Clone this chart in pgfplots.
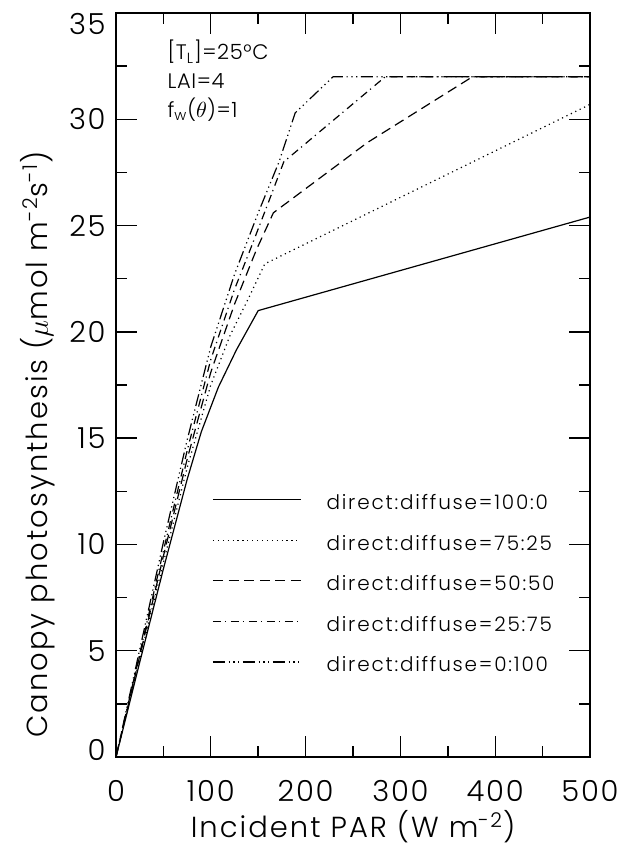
\documentclass[border=0pt]{standalone}
\usepackage{pgfplots}
\pgfplotsset{compat=1.18}
\usepackage{fontspec}
\setmainfont{Poppins Light}

\pgfplotstableread{
x y
0 0
25 4.45
50 8.85
75 13.05
90 15.3
108 17.4
127 19.15
150 21.0
500 25.4
}\dOne
\pgfplotstableread{
x y
0 0
25 4.6
50 9.15
75 13.6
100 17.5
120 19.8
140 21.6
157 23.2
500 30.7
}\dTwo
\pgfplotstableread{
x y
0 0
25 4.75
50 9.45
75 14.0
100 18.1
125 21.3
148 23.85
166 25.6
265 28.9
376 32
500 32
}\dThree
\pgfplotstableread{
x y
0 0
25 4.85
50 9.7
75 14.4
100 18.7
125 22.0
141 23.8
160 26.0
177 28.0
284 32
500 32
}\dFour
\pgfplotstableread{
x y
0 0
25 5.05
50 10.1
75 14.9
100 19.3
125 22.7
150 25.6
172 28.0
189 30.3
229 32
500 32
}\dFive

\tikzset{
  sdot/.style={line width=0.6pt, dash pattern=on 0.6pt off 1.85pt},
  sdash/.style={line width=0.6pt, dash pattern=on 5pt off 2.8pt},
  sdashdot/.style={line width=0.6pt, dash pattern=on 4pt off 2pt on 0.6pt off 2.4pt},
  sdashdots/.style={line width=0.6pt, dash pattern=on 6pt off 1.8pt on 0.6pt off 1.8pt on 0.6pt off 1.8pt on 0.6pt off 1.8pt},
}

\begin{document}
\begin{tikzpicture}
\useasboundingbox (-58pt,-45pt) rectangle (251pt,378.5pt);
\begin{axis}[
  scale only axis,
  width=237pt, height=372pt,
  xmin=0, xmax=500, ymin=0, ymax=35,
  xtick={0,100,...,500}, ytick={0,5,...,35},
  yticklabels={\raisebox{3.7pt}[\height][\depth]{0},5,10,15,20,25,30,\raisebox{-5.5pt}[\height][\depth]{35}},
  minor x tick num=1, minor y tick num=1,
  tick align=inside,
  major tick length=10.5pt, minor tick length=5.5pt,
  every tick/.style={black, line width=0.7pt},
  axis line style={line width=0.75pt},
  /pgf/number format/assume math mode=true,
  ticklabel style={font=\fontsize{14.5}{17}\selectfont\addfontfeatures{LetterSpace=6}},
  yticklabel style={inner sep=0pt, xshift=-5pt},
  xticklabel style={inner sep=0pt, yshift=-11.5pt},
  xlabel={Incident PAR (W m\textsuperscript{-2})},
  ylabel={Canopy photosynthesis ($\mu$mol m\textsuperscript{-2}s\textsuperscript{-1})},
  label style={font=\fontsize{14.5}{17}\selectfont\addfontfeatures{LetterSpace=7}},
  xlabel style={at={(axis description cs:0.5,-0.1085)}, anchor=base},
  ylabel style={at={(axis description cs:-0.1435,0.42)}, anchor=base},
  legend cell align=left,
  legend image code/.code={\draw[#1] (0pt,2.5pt) -- (44pt,2.5pt);},
  legend style={draw=none, fill=none, inner sep=0pt, row sep=11.3pt,
    at={(rel axis cs:0.2025,0.352)}, anchor=north west,
    font=\fontsize{10}{11}\selectfont\addfontfeatures{LetterSpace=9},
    nodes={inner sep=0pt, text height=7pt, text depth=2pt},
    /tikz/every odd column/.append style={column sep=12.5pt}},
]
\addplot[black, line width=0.6pt] table {\dOne};
\addlegendentry{direct:diffuse=100:0}
\addplot[black, sdot] table {\dTwo};
\addlegendentry{direct:diffuse=75:25}
\addplot[black, sdash] table {\dThree};
\addlegendentry{direct:diffuse=50:50}
\addplot[black, sdashdot] table {\dFour};
\addlegendentry{direct:diffuse=25:75}
\addplot[black, sdashdots] table {\dFive};
\addlegendentry{direct:diffuse=0:100}

\begin{scope}[every node/.style={anchor=base west, inner sep=0pt, font=\fontsize{10.5}{12}\selectfont\addfontfeatures{LetterSpace=3}}]
\node at (axis cs:54,32.8) {[T\textsubscript{L}]=25°C};
\node at (axis cs:54,31.45) {LAI=4};
\node at (axis cs:54,30.1) {f\textsubscript{w}($\theta$)=1};
\end{scope}
\end{axis}
\end{tikzpicture}
\end{document}
